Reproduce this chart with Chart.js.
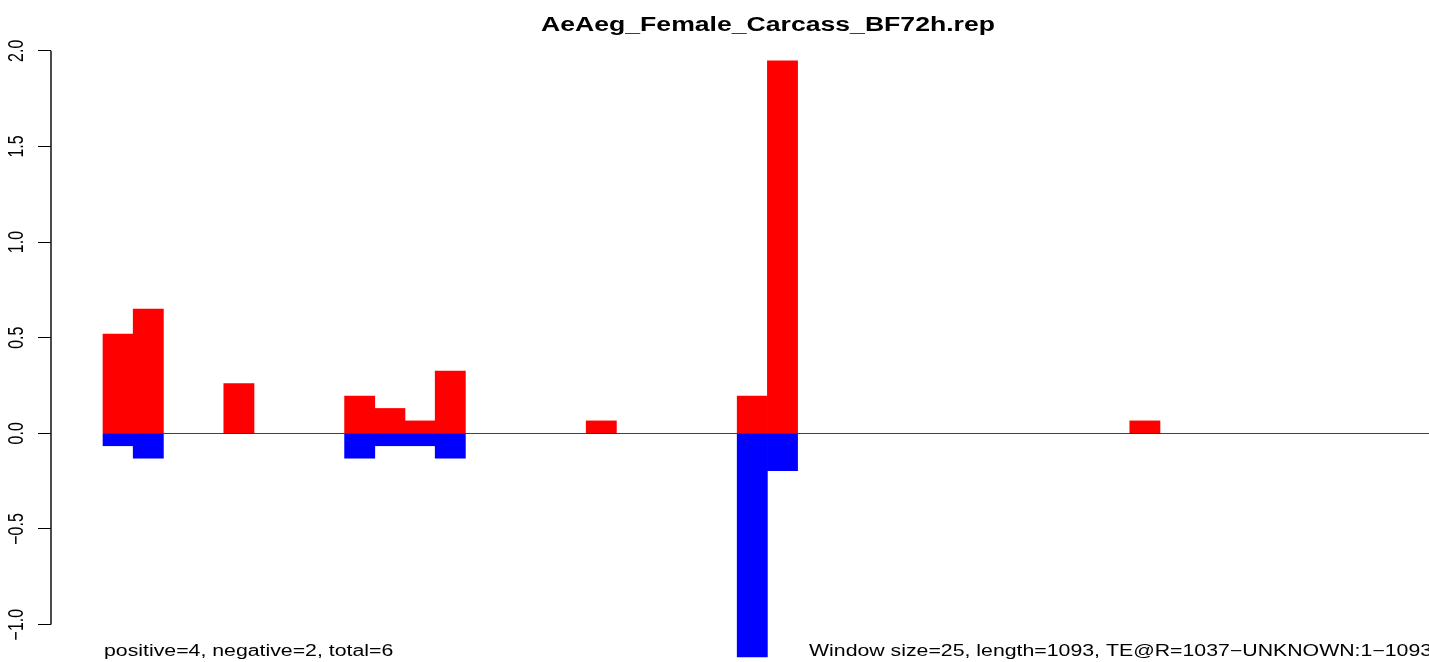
<!DOCTYPE html>
<html>
<head>
  <meta charset="utf-8">
  <title>AeAeg_Female_Carcass_BF72h.rep</title>
  <script src="https://cdn.jsdelivr.net/npm/chart.js"></script>
  <style>
    html, body { margin: 0; padding: 0; background: #fff; }
    canvas { display: block; }
  </style>
</head>
<body>
  <canvas id="repChart" width="1429" height="662"></canvas>

  <script>
    const chartTitle = 'AeAeg_Female_Carcass_BF72h.rep';
    const leftNote = 'positive=4, negative=2, total=6';
    const rightNote = 'Window size=25, length=1093, TE@R=1037\u2212UNKNOWN:1\u22121093';

    const windowSize = 25;
    // start of each 25 bp window along the 1093 bp element
    const windowStarts = [
      0, 25, 50, 75, 100, 125, 150, 175, 200, 225, 250,
      275, 300, 325, 350, 375, 400, 425, 450, 475, 500, 525,
      550, 575, 600, 625, 650, 675, 700, 725, 750, 775, 800,
      825, 850, 875, 900, 925, 950, 975, 1000, 1025, 1050, 1075
    ];
    const positive = [
      0.519, 0.649, 0, 0, 0.26, 0, 0, 0, 0.195, 0.13, 0.065,
      0.325, 0, 0, 0, 0, 0.065, 0, 0, 0, 0, 0.195,
      1.948, 0, 0, 0, 0, 0, 0, 0, 0, 0, 0,
      0, 0.065, 0, 0, 0, 0, 0, 0, 0, 0, 0
    ];
    const negative = [
      -0.065, -0.13, 0, 0, 0, 0, 0, 0, -0.13, -0.065, -0.065,
      -0.13, 0, 0, 0, 0, 0, 0, 0, 0, 0, -1.169,
      -0.195, 0, 0, 0, 0, 0, 0, 0, 0, 0, 0,
      0, 0, 0, 0, 0, 0, 0, 0, 0, 0, 0
    ];
    const yTicks = [-1, -0.5, 0, 0.5, 1, 1.5, 2];

    // the original png was stretched sideways, text too
    const textStretch = 1.33;

    function drawText(ctx, txt, x, y, align, font, angle) {
      ctx.save();
      ctx.translate(x, y);
      ctx.scale(textStretch, 1);
      if (angle) ctx.rotate(angle);
      ctx.font = font;
      ctx.textAlign = align;
      ctx.textBaseline = 'alphabetic';
      ctx.fillStyle = '#000';
      ctx.fillText(txt, 0, 0);
      ctx.restore();
    }

    const rPlot = {
      id: 'rPlot',
      beforeDatasetsDraw(chart) {
        const { ctx, chartArea } = chart;
        const x = chart.scales.x, y = chart.scales.y;
        const y0 = Math.round(y.getPixelForValue(0)) + 0.5;
        ctx.save();
        ctx.strokeStyle = '#4d4d4d';
        ctx.lineWidth = 1;
        ctx.beginPath();
        ctx.moveTo(x.getPixelForValue(0), y0);
        ctx.lineTo(chartArea.right, y0);
        ctx.stroke();
        ctx.restore();
      },
      afterDraw(chart) {
        const { ctx } = chart;
        const y = chart.scales.y;

        // axis line only across the labelled range
        ctx.save();
        ctx.strokeStyle = '#000';
        ctx.lineWidth = 1.4;
        ctx.beginPath();
        ctx.moveTo(y.right, y.getPixelForValue(yTicks[0]));
        ctx.lineTo(y.right, y.getPixelForValue(yTicks[yTicks.length - 1]));
        ctx.stroke();
        ctx.restore();

        yTicks.forEach(v => {
          const lbl = v.toFixed(1).replace('-', '\u2212');
          drawText(ctx, lbl, 23, y.getPixelForValue(v), 'center', '16px "Liberation Sans"', -Math.PI / 2);
        });

        drawText(ctx, chartTitle, 768, 31, 'center', 'bold 20px "Liberation Sans"');
        drawText(ctx, leftNote, 104, 656, 'left', '16px "Liberation Sans"');
        drawText(ctx, rightNote, 809, 656, 'left', '16px "Liberation Sans"');
      }
    };

    const ctx = document.getElementById('repChart').getContext('2d');
    const chart = new Chart(ctx, {
      type: 'bar',
      data: {
        datasets: [{
          label: 'positive',
          data: windowStarts.map((s, i) => ({ x: s + windowSize / 2, y: positive[i] })),
          backgroundColor: '#ff0000',
          borderWidth: 0,
          grouped: false,
          barPercentage: 1,
          categoryPercentage: 1
        }, {
          label: 'negative',
          data: windowStarts.map((s, i) => ({ x: s + windowSize / 2, y: negative[i] })),
          backgroundColor: '#0000ff',
          borderWidth: 0,
          grouped: false,
          barPercentage: 1,
          categoryPercentage: 1
        }]
      },
      options: {
        responsive: false,
        animation: false,
        layout: { padding: { top: 37, left: 0, right: 0, bottom: 0 } },
        plugins: {
          legend: { display: false },
          tooltip: { enabled: false },
          title: { display: false }
        },
        scales: {
          x: {
            type: 'linear',
            display: false,
            offset: false,
            grid: { offset: false },
            min: -43.05,
            max: 1097.7,
            afterBuildTicks: s => { s.ticks = windowStarts.map(v => ({ value: v })); }
          },
          y: {
            min: -1.1955,
            max: 2.072,
            afterBuildTicks: s => { s.ticks = yTicks.map(v => ({ value: v })); },
            afterFit: s => { s.width = 51; },
            ticks: { display: false },
            border: { display: false },
            grid: {
              drawOnChartArea: false,
              drawTicks: true,
              tickLength: 13,
              color: '#000',
              lineWidth: 1
            }
          }
        }
      },
      plugins: [rPlot]
    });
  </script>
</body>
</html>
